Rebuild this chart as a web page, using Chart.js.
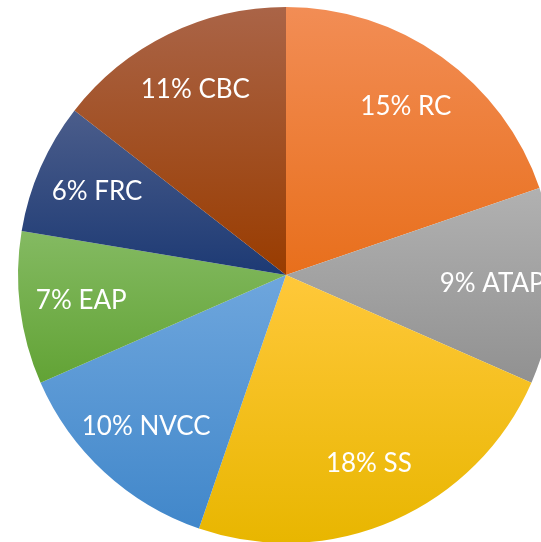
<!DOCTYPE html>
<html>
<head>
<meta charset="utf-8">
<script src="https://cdn.jsdelivr.net/npm/chart.js@4"></script>
<style>
  html, body { margin: 0; padding: 0; background: #ffffff; overflow: hidden; width: 541px; height: 542px; }
  #wrap { position: absolute; left: 0; top: 0; width: 572px; height: 550px; }
</style>
</head>
<body>
<div id="wrap"><canvas id="c" width="572" height="550"></canvas></div>
<script>
const categories = ["RC", "ATAP", "SS", "NVCC", "EAP", "FRC", "CBC"];
const values = [15, 9, 18, 10, 7, 6, 11];
const labelTexts = ["15% RC", "9% ATAP", "18% SS", "10% NVCC", "7% EAP", "6% FRC", "11% CBC"];
const topColors = ["#F28D55", "#B1B1B1", "#FFC83A", "#6EA6DD", "#84BA62", "#4B5D8B", "#AA6447"];
const bottomColors = ["#E86F1C", "#919191", "#E8B600", "#4187CA", "#62A335", "#1D3A74", "#993C00"];

function sliceGradient(context) {
  const chart = context.chart;
  const area = chart.chartArea;
  const i = context.dataIndex;
  if (!area || i === undefined) return bottomColors[i] || "#888";
  const total = values.reduce((a, b) => a + b, 0);
  let before = 0;
  for (let k = 0; k < i; k++) before += values[k];
  const a0 = -Math.PI / 2 + before / total * 2 * Math.PI;
  const a1 = a0 + values[i] / total * 2 * Math.PI;
  const cx = (area.left + area.right) / 2;
  const cy = (area.top + area.bottom) / 2;
  const r = Math.min(area.width, area.height) / 2;
  const ys = [cy, cy + r * Math.sin(a0), cy + r * Math.sin(a1)];
  [-Math.PI / 2, Math.PI / 2, 3 * Math.PI / 2].forEach(t => {
    if (t >= a0 && t <= a1) ys.push(cy + r * Math.sin(t));
  });
  const y0 = Math.min(...ys), y1 = Math.max(...ys);
  const g = chart.ctx.createLinearGradient(0, y0, 0, y1 + 0.01);
  g.addColorStop(0, topColors[i]);
  g.addColorStop(1, bottomColors[i]);
  return g;
}

const labelPlugin = {
  id: 'sliceLabels',
  afterDatasetsDraw(chart) {
    const ctx = chart.ctx;
    const meta = chart.getDatasetMeta(0);
    ctx.save();
    ctx.fillStyle = "#ffffff";
    ctx.font = "26px Lato, 'Open Sans', sans-serif";
    ctx.textAlign = "center";
    ctx.textBaseline = "middle";
    meta.data.forEach((arc, i) => {
      const p = arc.getProps(['x', 'y', 'startAngle', 'endAngle', 'outerRadius'], true);
      const mid = (p.startAngle + p.endAngle) / 2;
      const d = p.outerRadius * 0.77;
      ctx.fillText(labelTexts[i], p.x + Math.cos(mid) * d, p.y + Math.sin(mid) * d);
    });
    ctx.restore();
  }
};

new Chart(document.getElementById('c'), {
  type: 'pie',
  data: {
    labels: categories,
    datasets: [{
      data: values,
      backgroundColor: sliceGradient,
      borderWidth: 0,
      hoverOffset: 0
    }]
  },
  options: {
    responsive: false,
    animation: false,
    layout: { padding: { top: 7, bottom: 7, left: 18, right: 18 } },
    plugins: {
      legend: { display: false },
      tooltip: { enabled: false },
      title: { display: false }
    },
    events: []
  },
  plugins: [labelPlugin]
});
</script>
</body>
</html>
